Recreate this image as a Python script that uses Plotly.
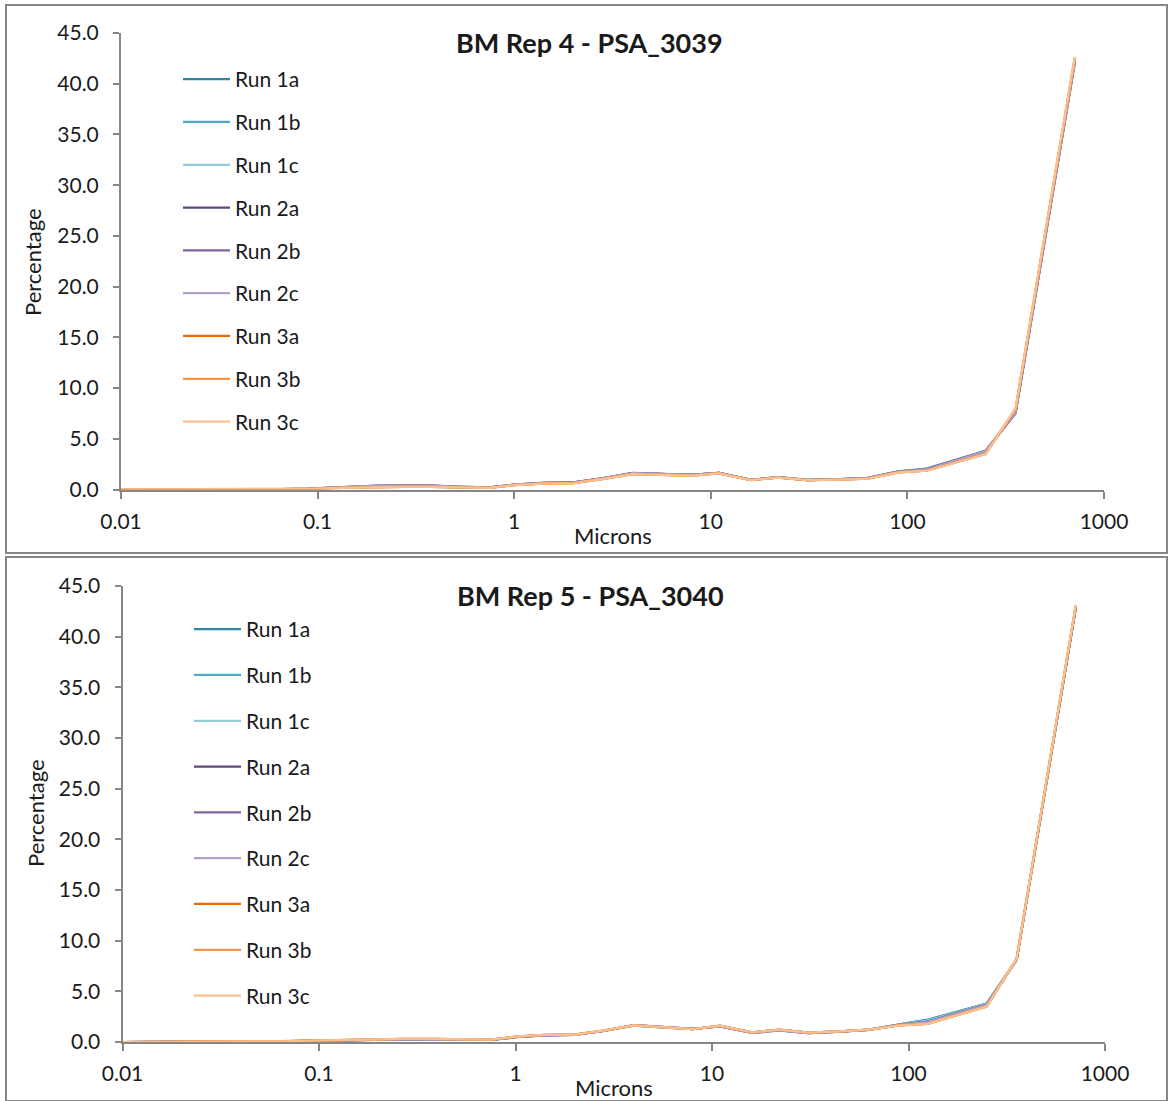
import plotly.graph_objects as go

W, H = 1168, 1101

sizes = [0.01, 0.045, 0.065, 0.09, 0.13, 0.19, 0.27, 0.38, 0.55, 0.75, 1.0, 1.4, 2.0, 2.8,
         4.0, 5.6, 8.0, 11, 16, 22, 31, 45, 63, 90, 125, 250, 355, 710]

run_names = ["Run 1a", "Run 1b", "Run 1c", "Run 2a", "Run 2b", "Run 2c", "Run 3a", "Run 3b", "Run 3c"]
run_colors = ["#31859C", "#4BACC6", "#93CDDD", "#5F497A", "#8064A2", "#B3A2C7",
              "#E46C0A", "#F79646", "#FAC090"]

# BM Rep 4 - PSA_3039
rep4_run1a = [0, 0, 0.02, 0.06, 0.18, 0.28, 0.30, 0.28, 0.20, 0.18, 0.45, 0.62, 0.68, 1.08, 1.62, 1.52, 1.45, 1.65, 0.95, 1.22, 0.95, 1.02, 1.15, 1.80, 2.05, 3.80, 7.6, 42.2]
rep4_run1b = [0, 0, 0.02, 0.06, 0.18, 0.29, 0.31, 0.29, 0.20, 0.18, 0.46, 0.62, 0.68, 1.08, 1.60, 1.50, 1.44, 1.64, 0.95, 1.22, 0.95, 1.02, 1.14, 1.78, 2.02, 3.75, 7.7, 42.3]
rep4_run1c = [0, 0, 0.02, 0.06, 0.17, 0.28, 0.30, 0.28, 0.19, 0.18, 0.45, 0.61, 0.67, 1.07, 1.60, 1.50, 1.43, 1.63, 0.94, 1.21, 0.94, 1.01, 1.13, 1.76, 2.00, 3.72, 7.7, 42.3]
rep4_run2a = [0, 0, 0.03, 0.08, 0.22, 0.36, 0.40, 0.38, 0.26, 0.20, 0.48, 0.65, 0.70, 1.10, 1.62, 1.52, 1.45, 1.64, 0.94, 1.20, 0.93, 1.00, 1.12, 1.75, 1.98, 3.78, 7.6, 42.1]
rep4_run2b = [0, 0, 0.03, 0.08, 0.22, 0.37, 0.41, 0.38, 0.26, 0.20, 0.48, 0.65, 0.70, 1.10, 1.63, 1.52, 1.45, 1.64, 0.94, 1.20, 0.93, 1.00, 1.12, 1.76, 1.98, 3.80, 7.5, 42.0]
rep4_run2c = [0, 0, 0.03, 0.07, 0.21, 0.35, 0.39, 0.37, 0.25, 0.20, 0.47, 0.64, 0.69, 1.09, 1.61, 1.51, 1.44, 1.63, 0.94, 1.20, 0.93, 1.00, 1.12, 1.74, 1.96, 3.76, 7.6, 42.1]
rep4_run3a = [0, 0, 0.02, 0.05, 0.16, 0.25, 0.27, 0.25, 0.18, 0.17, 0.42, 0.58, 0.62, 1.02, 1.52, 1.45, 1.38, 1.58, 0.92, 1.18, 0.92, 0.98, 1.08, 1.68, 1.86, 3.52, 7.9, 42.5]
rep4_run3b = [0, 0, 0.02, 0.05, 0.16, 0.25, 0.27, 0.25, 0.18, 0.17, 0.42, 0.58, 0.62, 1.02, 1.52, 1.45, 1.38, 1.58, 0.92, 1.18, 0.92, 0.98, 1.08, 1.68, 1.85, 3.50, 8.0, 42.6]
rep4_run3c = [0, 0, 0.02, 0.05, 0.16, 0.25, 0.27, 0.25, 0.18, 0.17, 0.42, 0.58, 0.62, 1.02, 1.52, 1.45, 1.38, 1.58, 0.92, 1.18, 0.92, 0.98, 1.08, 1.68, 1.85, 3.50, 8.0, 42.6]

# BM Rep 5 - PSA_3040
rep5_run1a = [0, 0.02, 0.06, 0.12, 0.18, 0.25, 0.28, 0.27, 0.20, 0.22, 0.50, 0.68, 0.72, 1.10, 1.62, 1.45, 1.28, 1.58, 0.95, 1.20, 0.92, 1.05, 1.22, 1.75, 2.20, 3.80, 8.1, 42.8]
rep5_run1b = [0, 0.02, 0.06, 0.12, 0.18, 0.25, 0.28, 0.27, 0.20, 0.22, 0.50, 0.68, 0.72, 1.10, 1.62, 1.45, 1.28, 1.58, 0.95, 1.20, 0.92, 1.05, 1.22, 1.74, 2.15, 3.78, 8.1, 42.8]
rep5_run1c = [0, 0.02, 0.06, 0.12, 0.18, 0.25, 0.28, 0.27, 0.20, 0.22, 0.50, 0.68, 0.72, 1.10, 1.62, 1.45, 1.28, 1.58, 0.95, 1.20, 0.92, 1.05, 1.22, 1.72, 2.10, 3.75, 8.1, 42.9]
rep5_run2a = [0, 0.02, 0.05, 0.10, 0.16, 0.22, 0.25, 0.24, 0.18, 0.20, 0.48, 0.66, 0.70, 1.10, 1.66, 1.50, 1.30, 1.55, 0.90, 1.15, 0.88, 1.02, 1.20, 1.70, 2.00, 3.70, 8.1, 42.9]
rep5_run2b = [0, 0.02, 0.05, 0.10, 0.16, 0.22, 0.25, 0.24, 0.18, 0.20, 0.48, 0.66, 0.70, 1.10, 1.66, 1.50, 1.30, 1.55, 0.90, 1.15, 0.88, 1.02, 1.20, 1.70, 1.98, 3.68, 8.1, 42.9]
rep5_run2c = [0, 0.02, 0.05, 0.10, 0.16, 0.22, 0.25, 0.24, 0.18, 0.20, 0.48, 0.66, 0.70, 1.10, 1.66, 1.50, 1.30, 1.55, 0.90, 1.15, 0.88, 1.02, 1.20, 1.70, 1.96, 3.66, 8.1, 42.9]
rep5_run3a = [0, 0.02, 0.07, 0.14, 0.20, 0.28, 0.32, 0.31, 0.24, 0.24, 0.52, 0.70, 0.73, 1.12, 1.64, 1.45, 1.26, 1.62, 0.96, 1.22, 0.92, 1.05, 1.22, 1.65, 1.80, 3.50, 8.2, 43.0]
rep5_run3b = [0, 0.02, 0.07, 0.14, 0.20, 0.28, 0.32, 0.31, 0.24, 0.24, 0.52, 0.70, 0.73, 1.12, 1.64, 1.45, 1.26, 1.62, 0.96, 1.22, 0.92, 1.05, 1.22, 1.65, 1.80, 3.50, 8.2, 43.1]
rep5_run3c = [0, 0.02, 0.07, 0.14, 0.20, 0.28, 0.32, 0.31, 0.24, 0.24, 0.52, 0.70, 0.73, 1.12, 1.64, 1.45, 1.26, 1.62, 0.96, 1.22, 0.92, 1.05, 1.22, 1.65, 1.80, 3.50, 8.2, 43.1]

rep4 = [rep4_run1a, rep4_run1b, rep4_run1c, rep4_run2a, rep4_run2b, rep4_run2c, rep4_run3a, rep4_run3b, rep4_run3c]
rep5 = [rep5_run1a, rep5_run1b, rep5_run1c, rep5_run2a, rep5_run2b, rep5_run2c, rep5_run3a, rep5_run3b, rep5_run3c]

titles = ["BM Rep 4 - PSA_3039", "BM Rep 5 - PSA_3040"]
x_tickvals = [0.01, 0.1, 1, 10, 100, 1000]
x_ticktext = ["0.01", "0.1", "1", "10", "100", "1000"]
y_tickvals = [0, 5, 10, 15, 20, 25, 30, 35, 40, 45]

FONT = "Lato"
AX = "#868686"
TXT = "#1a1a1a"

fig = go.Figure()

for i, (name, color) in enumerate(zip(run_names, run_colors)):
    fig.add_trace(go.Scatter(x=sizes, y=rep4[i], mode="lines", name=name,
                             line=dict(color=color, width=2.25), xaxis="x", yaxis="y",
                             legend="legend", legendgroup="a" + str(i)))
for i, (name, color) in enumerate(zip(run_names, run_colors)):
    fig.add_trace(go.Scatter(x=sizes, y=rep5[i], mode="lines", name=name,
                             line=dict(color=color, width=2.25), xaxis="x2", yaxis="y2",
                             legend="legend2", legendgroup="b" + str(i)))

def px_x(p):
    return p / W

def px_y(p):
    return 1 - p / H

xaxis_common = dict(type="log", range=[-2, 3], tickvals=x_tickvals, ticktext=x_ticktext,
                    showgrid=False, zeroline=False, showline=True, linecolor=AX, linewidth=2,
                    ticks="outside", ticklen=7, tickwidth=2, tickcolor=AX, automargin=False,
                    tickfont=dict(family=FONT, size=21, color=TXT), ticklabelstandoff=5)
yaxis_common = dict(range=[0, 45], tickvals=y_tickvals, tickformat=".1f",
                    showgrid=False, zeroline=False, showline=True, linecolor=AX, linewidth=2,
                    ticks="outside", ticklen=6, tickwidth=2, tickcolor=AX, automargin=False,
                    tickfont=dict(family=FONT, size=21, color=TXT), ticklabelstandoff=10)

fig.update_layout(
    width=W, height=H,
    margin=dict(l=0, r=0, t=0, b=0, pad=0, autoexpand=False),
    paper_bgcolor="white", plot_bgcolor="white",
    font=dict(family=FONT, color=TXT),
    showlegend=True,
    xaxis=dict(domain=[px_x(121), px_x(1104)], anchor="y", **xaxis_common),
    yaxis=dict(domain=[px_y(489.5), px_y(33)], anchor="x", **yaxis_common),
    xaxis2=dict(domain=[px_x(122.5), px_x(1105)], anchor="y2", **xaxis_common),
    yaxis2=dict(domain=[px_y(1042), px_y(586)], anchor="x2", **yaxis_common),
    legend=dict(x=px_x(178), y=px_y(59), xanchor="left", yanchor="top",
                bgcolor="rgba(0,0,0,0)", font=dict(family=FONT, size=21, color=TXT),
                tracegroupgap=12.5, itemwidth=47, traceorder="grouped"),
    legend2=dict(x=px_x(189), y=px_y(609), xanchor="left", yanchor="top",
                 bgcolor="rgba(0,0,0,0)", font=dict(family=FONT, size=21, color=TXT),
                 tracegroupgap=15.5, itemwidth=47, traceorder="grouped"),
    shapes=[
        dict(type="rect", xref="paper", yref="paper", x0=px_x(6), x1=px_x(1167),
             y0=px_y(553), y1=px_y(5), line=dict(color=AX, width=2)),
        dict(type="rect", xref="paper", yref="paper", x0=px_x(6), x1=px_x(1167),
             y0=0, y1=px_y(557), line=dict(color=AX, width=2)),
    ],
    annotations=[
        dict(text="<b>" + titles[0] + "</b>", x=px_x(589.5), y=px_y(42), xref="paper", yref="paper",
             xanchor="center", yanchor="middle", showarrow=False,
             font=dict(family=FONT, size=27, color=TXT)),
        dict(text="<b>" + titles[1] + "</b>", x=px_x(590.5), y=px_y(595), xref="paper", yref="paper",
             xanchor="center", yanchor="middle", showarrow=False,
             font=dict(family=FONT, size=27, color=TXT)),
        dict(text="Percentage", x=px_x(33), y=px_y(262), xref="paper", yref="paper",
             xanchor="center", yanchor="middle", showarrow=False, textangle=-90,
             font=dict(family=FONT, size=22, color=TXT)),
        dict(text="Percentage", x=px_x(35), y=px_y(813), xref="paper", yref="paper",
             xanchor="center", yanchor="middle", showarrow=False, textangle=-90,
             font=dict(family=FONT, size=22, color=TXT)),
        dict(text="Microns", x=px_x(613), y=px_y(535), xref="paper", yref="paper",
             xanchor="center", yanchor="middle", showarrow=False,
             font=dict(family=FONT, size=22, color=TXT)),
        dict(text="Microns", x=px_x(614), y=px_y(1087), xref="paper", yref="paper",
             xanchor="center", yanchor="middle", showarrow=False,
             font=dict(family=FONT, size=22, color=TXT)),
    ],
)

fig.write_html("out.html")
